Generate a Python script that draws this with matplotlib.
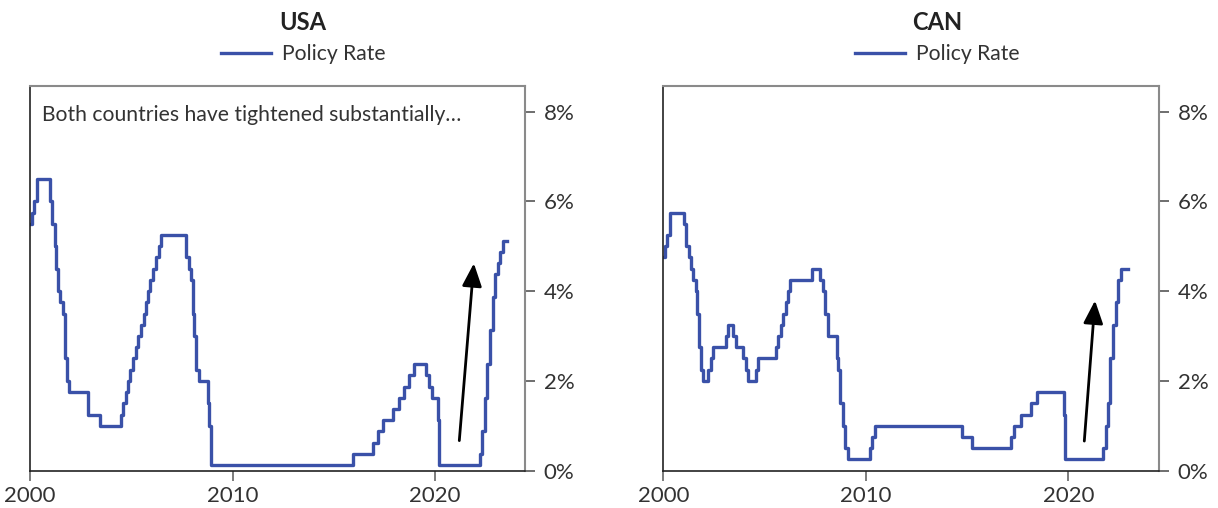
import matplotlib
matplotlib.use("Agg")
import matplotlib.pyplot as plt

plt.rcParams['font.family'] = ['Lato', 'DejaVu Sans']

# Policy rate step changes (decimal year, rate %)
usa_years = [2000.00, 2000.09, 2000.22, 2000.37, 2001.01, 2001.08, 2001.21, 2001.30,
             2001.37, 2001.49, 2001.64, 2001.71, 2001.75, 2001.85, 2001.94, 2002.85,
             2003.48, 2004.50, 2004.61, 2004.72, 2004.86, 2004.95, 2005.09, 2005.22,
             2005.34, 2005.50, 2005.61, 2005.72, 2005.83, 2005.95, 2006.08, 2006.24,
             2006.36, 2006.49, 2007.71, 2007.83, 2007.94, 2008.06, 2008.08, 2008.21,
             2008.33, 2008.77, 2008.83, 2008.96, 2015.96, 2016.95, 2017.20, 2017.45,
             2017.95, 2018.22, 2018.45, 2018.74, 2018.97, 2019.58, 2019.71, 2019.83,
             2020.17, 2020.20, 2022.21, 2022.34, 2022.46, 2022.57, 2022.72, 2022.84,
             2022.95, 2023.09, 2023.22, 2023.34, 2023.56]
usa_rate = [5.50, 5.75, 6.00, 6.50, 6.00, 5.50, 5.00, 4.50,
            4.00, 3.75, 3.50, 3.00, 2.50, 2.00, 1.75, 1.25,
            1.00, 1.25, 1.50, 1.75, 2.00, 2.25, 2.50, 2.75,
            3.00, 3.25, 3.50, 3.75, 4.00, 4.25, 4.50, 4.75,
            5.00, 5.25, 4.75, 4.50, 4.25, 3.50, 3.00, 2.25,
            2.00, 1.50, 1.00, 0.125, 0.375, 0.625, 0.875, 1.125,
            1.375, 1.625, 1.875, 2.125, 2.375, 2.125, 1.875, 1.625,
            1.125, 0.125, 0.375, 0.875, 1.625, 2.375, 3.125, 3.875,
            4.375, 4.625, 4.875, 5.125, 5.125]

can_years = [2000.00, 2000.07, 2000.20, 2000.35, 2001.02, 2001.14, 2001.25, 2001.36,
             2001.49, 2001.61, 2001.66, 2001.76, 2001.85, 2001.98, 2002.23, 2002.36,
             2002.47, 2003.09, 2003.21, 2003.45, 2003.58, 2003.95, 2004.07, 2004.18,
             2004.58, 2004.69, 2005.55, 2005.66, 2005.80, 2005.92, 2006.04, 2006.17,
             2006.25, 2007.36, 2007.75, 2007.89, 2008.00, 2008.13, 2008.58, 2008.61,
             2008.75, 2008.86, 2008.98, 2009.10, 2010.20, 2010.33, 2010.47, 2014.74,
             2015.22, 2017.18, 2017.32, 2017.68, 2018.16, 2018.44, 2019.79, 2019.83,
             2019.85, 2021.73, 2021.84, 2021.97, 2022.08, 2022.23, 2022.36, 2022.47,
             2022.61, 2022.96]
can_rate = [4.75, 5.00, 5.25, 5.75, 5.50, 5.00, 4.75, 4.50,
            4.25, 4.00, 3.50, 2.75, 2.25, 2.00, 2.25, 2.50,
            2.75, 3.00, 3.25, 3.00, 2.75, 2.50, 2.25, 2.00,
            2.25, 2.50, 2.75, 3.00, 3.25, 3.50, 3.75, 4.00,
            4.25, 4.50, 4.25, 4.00, 3.50, 3.00, 2.50, 2.25,
            1.50, 1.00, 0.50, 0.25, 0.50, 0.75, 1.00, 0.75,
            0.50, 0.75, 1.00, 1.25, 1.50, 1.75, 1.25, 0.75,
            0.25, 0.50, 1.00, 1.50, 2.50, 3.25, 3.75, 4.25,
            4.50, 4.50]

# arrows: (tail, tip) in data coords
usa_arrow = [(2021.20, 0.67), (2021.92, 4.62)]
can_arrow = [(2020.79, 0.66), (2021.32, 3.79)]

x_ticks = [2000, 2010, 2020]
y_ticks = [0, 2, 4, 6, 8]

line_color = '#3a51a8'
text_color = '#333333'

W, H = 1218, 508
fig = plt.figure(figsize=(W / 100, H / 100), dpi=100)

panels = [
    ('USA', usa_years, usa_rate, usa_arrow, 30, 525, 303),
    ('CAN', can_years, can_rate, can_arrow, 663.3, 1159, 937),
]

for name, yrs, rate, arrow, left, right, cx in panels:
    ax = fig.add_axes([left / W, 1 - 470.7 / H, (right - left) / W, (470.7 - 86) / H])
    line, = ax.plot(yrs, rate, drawstyle='steps-post', color=line_color, lw=2.4,
                    label='Policy Rate')
    ax.set_xlim(2000, 2000 + (right - left) / 20.25)
    ax.set_ylim(0, 8.57)
    ax.set_xticks(x_ticks)
    ax.set_yticks(y_ticks)
    ax.set_yticklabels([f'{v}%' for v in y_ticks])
    ax.yaxis.tick_right()
    ax.tick_params(axis='x', direction='out', length=7, width=1.2, colors='#666666',
                   labelcolor=text_color, labelsize=16, pad=4)
    ax.tick_params(axis='y', direction='out', length=7.5, width=1.2, colors='#555555',
                   labelcolor=text_color, labelsize=16, pad=6)
    for s in ['left', 'bottom']:
        ax.spines[s].set_color('#222222')
        ax.spines[s].set_linewidth(1.2)
    for s in ['top', 'right']:
        ax.spines[s].set_color('#8a8a8a')
        ax.spines[s].set_linewidth(1.5)

    ax.annotate('', xy=arrow[1], xytext=arrow[0],
                arrowprops=dict(arrowstyle='-|>,head_length=0.7,head_width=0.3',
                                mutation_scale=20, lw=2, color='black',
                                shrinkA=0, shrinkB=0))

    fig.text(cx / W, 1 - 23 / H, name, ha='center', va='center', fontsize=17,
             fontweight='bold', color='#222222')
    ax.legend(handles=[line], loc='center', bbox_to_anchor=(cx / W, 1 - 54 / H),
              bbox_transform=fig.transFigure, frameon=False, fontsize=15.2,
              handlelength=2.4, handletextpad=0.5, labelcolor=text_color)

    if name == 'USA':
        ax.text(0.0236, 0.909, 'Both countries have tightened substantially\u2026',
                transform=ax.transAxes, ha='left', va='baseline', fontsize=15.2,
                color=text_color)

fig.savefig('out.png', dpi=100)
